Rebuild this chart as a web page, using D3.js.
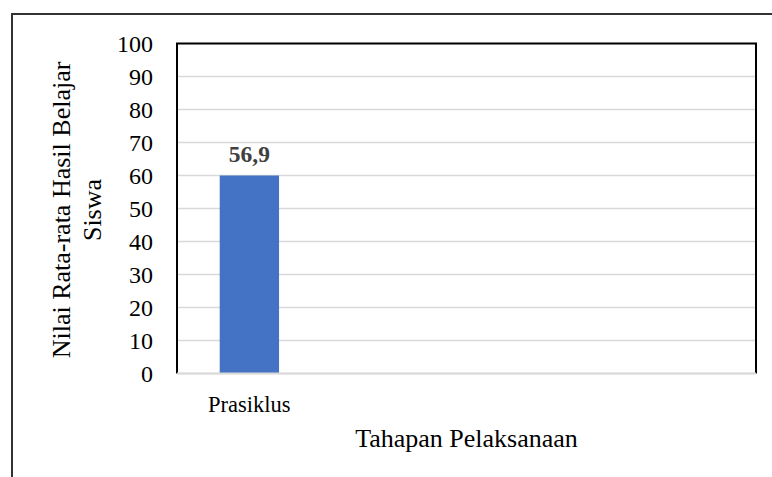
<!DOCTYPE html>
<html>
<head>
<meta charset="utf-8">
<title>Nilai Rata-rata Hasil Belajar Siswa</title>
<style>
body { margin: 0; background: #fff; }
svg text { font-family: "Liberation Serif", "Times New Roman", serif; fill: #000; }
.grid line { stroke: #d9d9d9; stroke-width: 1.5px; }
</style>
</head>
<body>
<svg width="772" height="477"></svg>
<script src="https://cdn.jsdelivr.net/npm/d3@7"></script>
<script>

// data
var slots = [0, 1, 2, 3];                 // category slots on the x axis
var slotLabels = ["Prasiklus", "", "", ""];
var barValues = [60];                      // bar height as drawn
var barLabels = ["56,9"];                  // label printed above the bar
var yTicks = [0, 10, 20, 30, 40, 50, 60, 70, 80, 90, 100];

var svg = d3.select("svg");

// outer frame (runs off right and bottom edge)
svg.append("rect")
    .attr("x", 12).attr("y", 14)
    .attr("width", 800).attr("height", 520)
    .attr("fill", "none")
    .attr("stroke", "#333")
    .attr("stroke-width", 2);

var plotLeft = 177, plotRight = 756, plotTop = 43.5, plotBottom = 373.5;

var x = d3.scaleBand().domain(slots).range([plotLeft, plotRight]).paddingInner(0.59).paddingOuter(0.295);
var y = d3.scaleLinear().domain([0, 100]).range([plotBottom, plotTop]);

// gridlines
svg.append("g").attr("class", "grid")
  .selectAll("line")
  .data(yTicks)
  .enter().append("line")
    .attr("x1", plotLeft).attr("x2", plotRight)
    .attr("y1", function(d) { return y(d); })
    .attr("y2", function(d) { return y(d); });

// plot frame: black on left/top/right
svg.append("path")
    .attr("d", "M" + plotLeft + "," + plotBottom + "V" + plotTop + "H" + plotRight + "V" + plotBottom)
    .attr("fill", "none")
    .attr("stroke", "#000")
    .attr("stroke-width", 2);

// bars
svg.append("g")
  .selectAll("rect")
  .data(barValues)
  .enter().append("rect")
    .attr("x", function(d, i) { return x(slots[i]); })
    .attr("width", x.bandwidth())
    .attr("y", function(d) { return y(d); })
    .attr("height", function(d) { return y(0) - y(d); })
    .attr("fill", "#4472c4");

// bar labels
svg.append("g")
  .selectAll("text")
  .data(barValues)
  .enter().append("text")
    .attr("x", function(d, i) { return x(slots[i]) + x.bandwidth() / 2; })
    .attr("y", function(d) { return y(d) - 14; })
    .attr("text-anchor", "middle")
    .style("font-size", "23.5px")
    .style("font-weight", "bold")
    .style("fill", "#404040")
    .text(function(d, i) { return barLabels[i]; });

// bottom axis line
svg.append("line")
    .attr("x1", plotLeft).attr("x2", plotRight)
    .attr("y1", plotBottom).attr("y2", plotBottom)
    .attr("stroke", "#d9d9d9").attr("stroke-width", 2);

// y tick labels
svg.append("g")
  .selectAll("text")
  .data(yTicks)
  .enter().append("text")
    .attr("x", 153)
    .attr("y", function(d) { return y(d); })
    .attr("dy", "0.35em")
    .attr("text-anchor", "end")
    .style("font-size", "24px")
    .text(function(d) { return d; });

// x category labels
svg.append("g")
  .selectAll("text")
  .data(slots)
  .enter().append("text")
    .attr("x", function(d) { return x(d) + x.bandwidth() / 2; })
    .attr("y", 412)
    .attr("text-anchor", "middle")
    .style("font-size", "22.5px")
    .text(function(d, i) { return slotLabels[i]; });

// x axis title
svg.append("text")
    .attr("x", (plotLeft + plotRight) / 2)
    .attr("y", 447)
    .attr("text-anchor", "middle")
    .style("font-size", "26px")
    .text("Tahapan Pelaksanaan");

// y axis title (two lines)
var yTitle = svg.append("text")
    .attr("transform", "translate(70,210) rotate(-90)")
    .attr("text-anchor", "middle")
    .style("font-size", "26px");
yTitle.append("tspan").attr("x", 0).attr("dy", 0).text("Nilai Rata-rata Hasil Belajar");
yTitle.append("tspan").attr("x", 0).attr("dy", 31).text("Siswa");

</script>
</body>
</html>
